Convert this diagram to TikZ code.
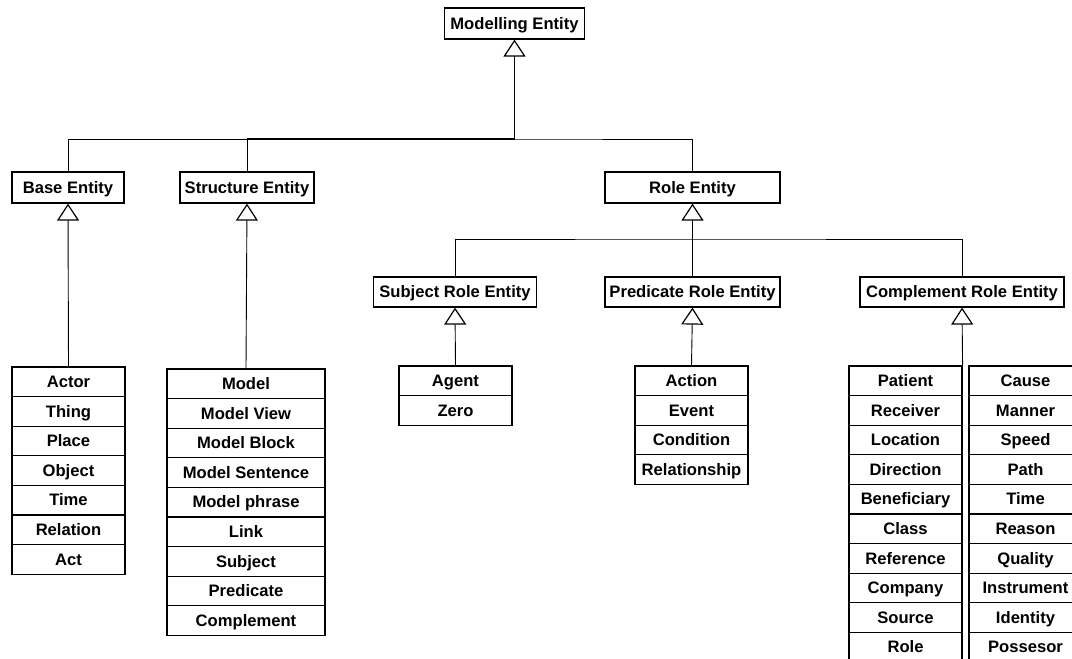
\documentclass[tikz,border=0pt]{standalone}
\usepackage{fontspec}
\setmainfont{Liberation Sans}
\usetikzlibrary{arrows.meta}
\begin{document}
\begin{tikzpicture}[x=1pt,y=-1pt,
  lbl/.style={font=\fontsize{16.6}{18}\selectfont\bfseries, text height=12.5pt, text depth=1pt},
  box/.style={lbl, draw, line width=1.2pt, inner sep=0pt, minimum height=31pt},
  cell/.style={lbl, draw, line width=1.2pt, inner sep=0pt, minimum width=113pt, minimum height=29.6pt},
  link/.style={line width=0.9pt},
  gen/.style={line width=0.9pt, -{Triangle[open,length=17pt,width=22pt,line width=1.2pt]}},
]
\path[use as bounding box] (0,0) rectangle (1072,659);
\clip (0,0) rectangle (1072,659);

% class boxes
\node[box, minimum width=140pt] (me)     at (514.5,23.5)  {Modelling Entity};
\node[box, minimum width=112pt] (base)   at (68,187.5)    {Base Entity};
\node[box, minimum width=134pt] (struct) at (247,187.5)   {Structure Entity};
\node[box, minimum width=175pt] (role)   at (692.5,187.5) {Role Entity};
\node[box, minimum width=163pt, minimum height=30pt] (subj) at (455,292)   {Subject Role Entity};
\node[box, minimum width=175pt, minimum height=30pt] (pred) at (692.5,292) {Predicate Role Entity};
\node[box, minimum width=204pt, minimum height=30pt] (comp) at (962,292)   {Complement Role Entity};

% member lists
\foreach \t [count=\i] in {Actor,Thing,Place,Object,Time,Relation,Act}
  \node[cell] (ba\i) at (68.5,{367+14.8+29.6*(\i-1)}) {\t};
\foreach \t [count=\i] in {Model,Model View,Model Block,Model Sentence,Model phrase,Link,Subject,Predicate,Complement}
  \node[cell, minimum width=158pt] (st\i) at (246,{369+14.8+29.6*(\i-1)}) {\t};
\foreach \t [count=\i] in {Agent,Zero}
  \node[cell] (ag\i) at (455.5,{366+14.8+29.6*(\i-1)}) {\t};
\foreach \t [count=\i] in {Action,Event,Condition,Relationship}
  \node[cell] (ac\i) at (691.5,{366+14.8+29.6*(\i-1)}) {\t};
\foreach \t [count=\i] in {Patient,Receiver,Location,Direction,Beneficiary,Class,Reference,Company,Source,Role}
  \node[cell] (cl\i) at (905.5,{366+14.8+29.6*(\i-1)}) {\t};
\foreach \t [count=\i] in {Cause,Manner,Speed,Path,Time,Reason,Quality,Instrument,Identity,Possesor}
  \node[cell] (cr\i) at (1025.5,{366+14.8+29.6*(\i-1)}) {\t};

% top-level generalisation
\coordinate (bus) at (me.south |- 0,139);
\draw[gen, line width=1.8pt] (bus) -- (me.south);
\draw[link] (base.north) |- (bus) -| (role.north);
\draw[line width=1.5pt] (struct.north |- bus) -- (bus);
\draw[link] (struct.north) -- (struct.north |- bus);

% role entity generalisation
\coordinate (rbus) at (role.south |- 0,239);
\draw[gen] (pred.north) -- (role.south);
\draw[link] (subj.north) |- (rbus) -| (comp.north);

% members to their classes
\draw[gen] (ba1.north) -- (base.south);
\draw[gen] (st1.north) -- (struct.south);
\draw[gen] (ag1.north) -- (subj.south);
\draw[gen] (ac1.north) -- (pred.south);
\draw[gen] (cl1.north east) -- (comp.south);
\end{tikzpicture}
\end{document}
